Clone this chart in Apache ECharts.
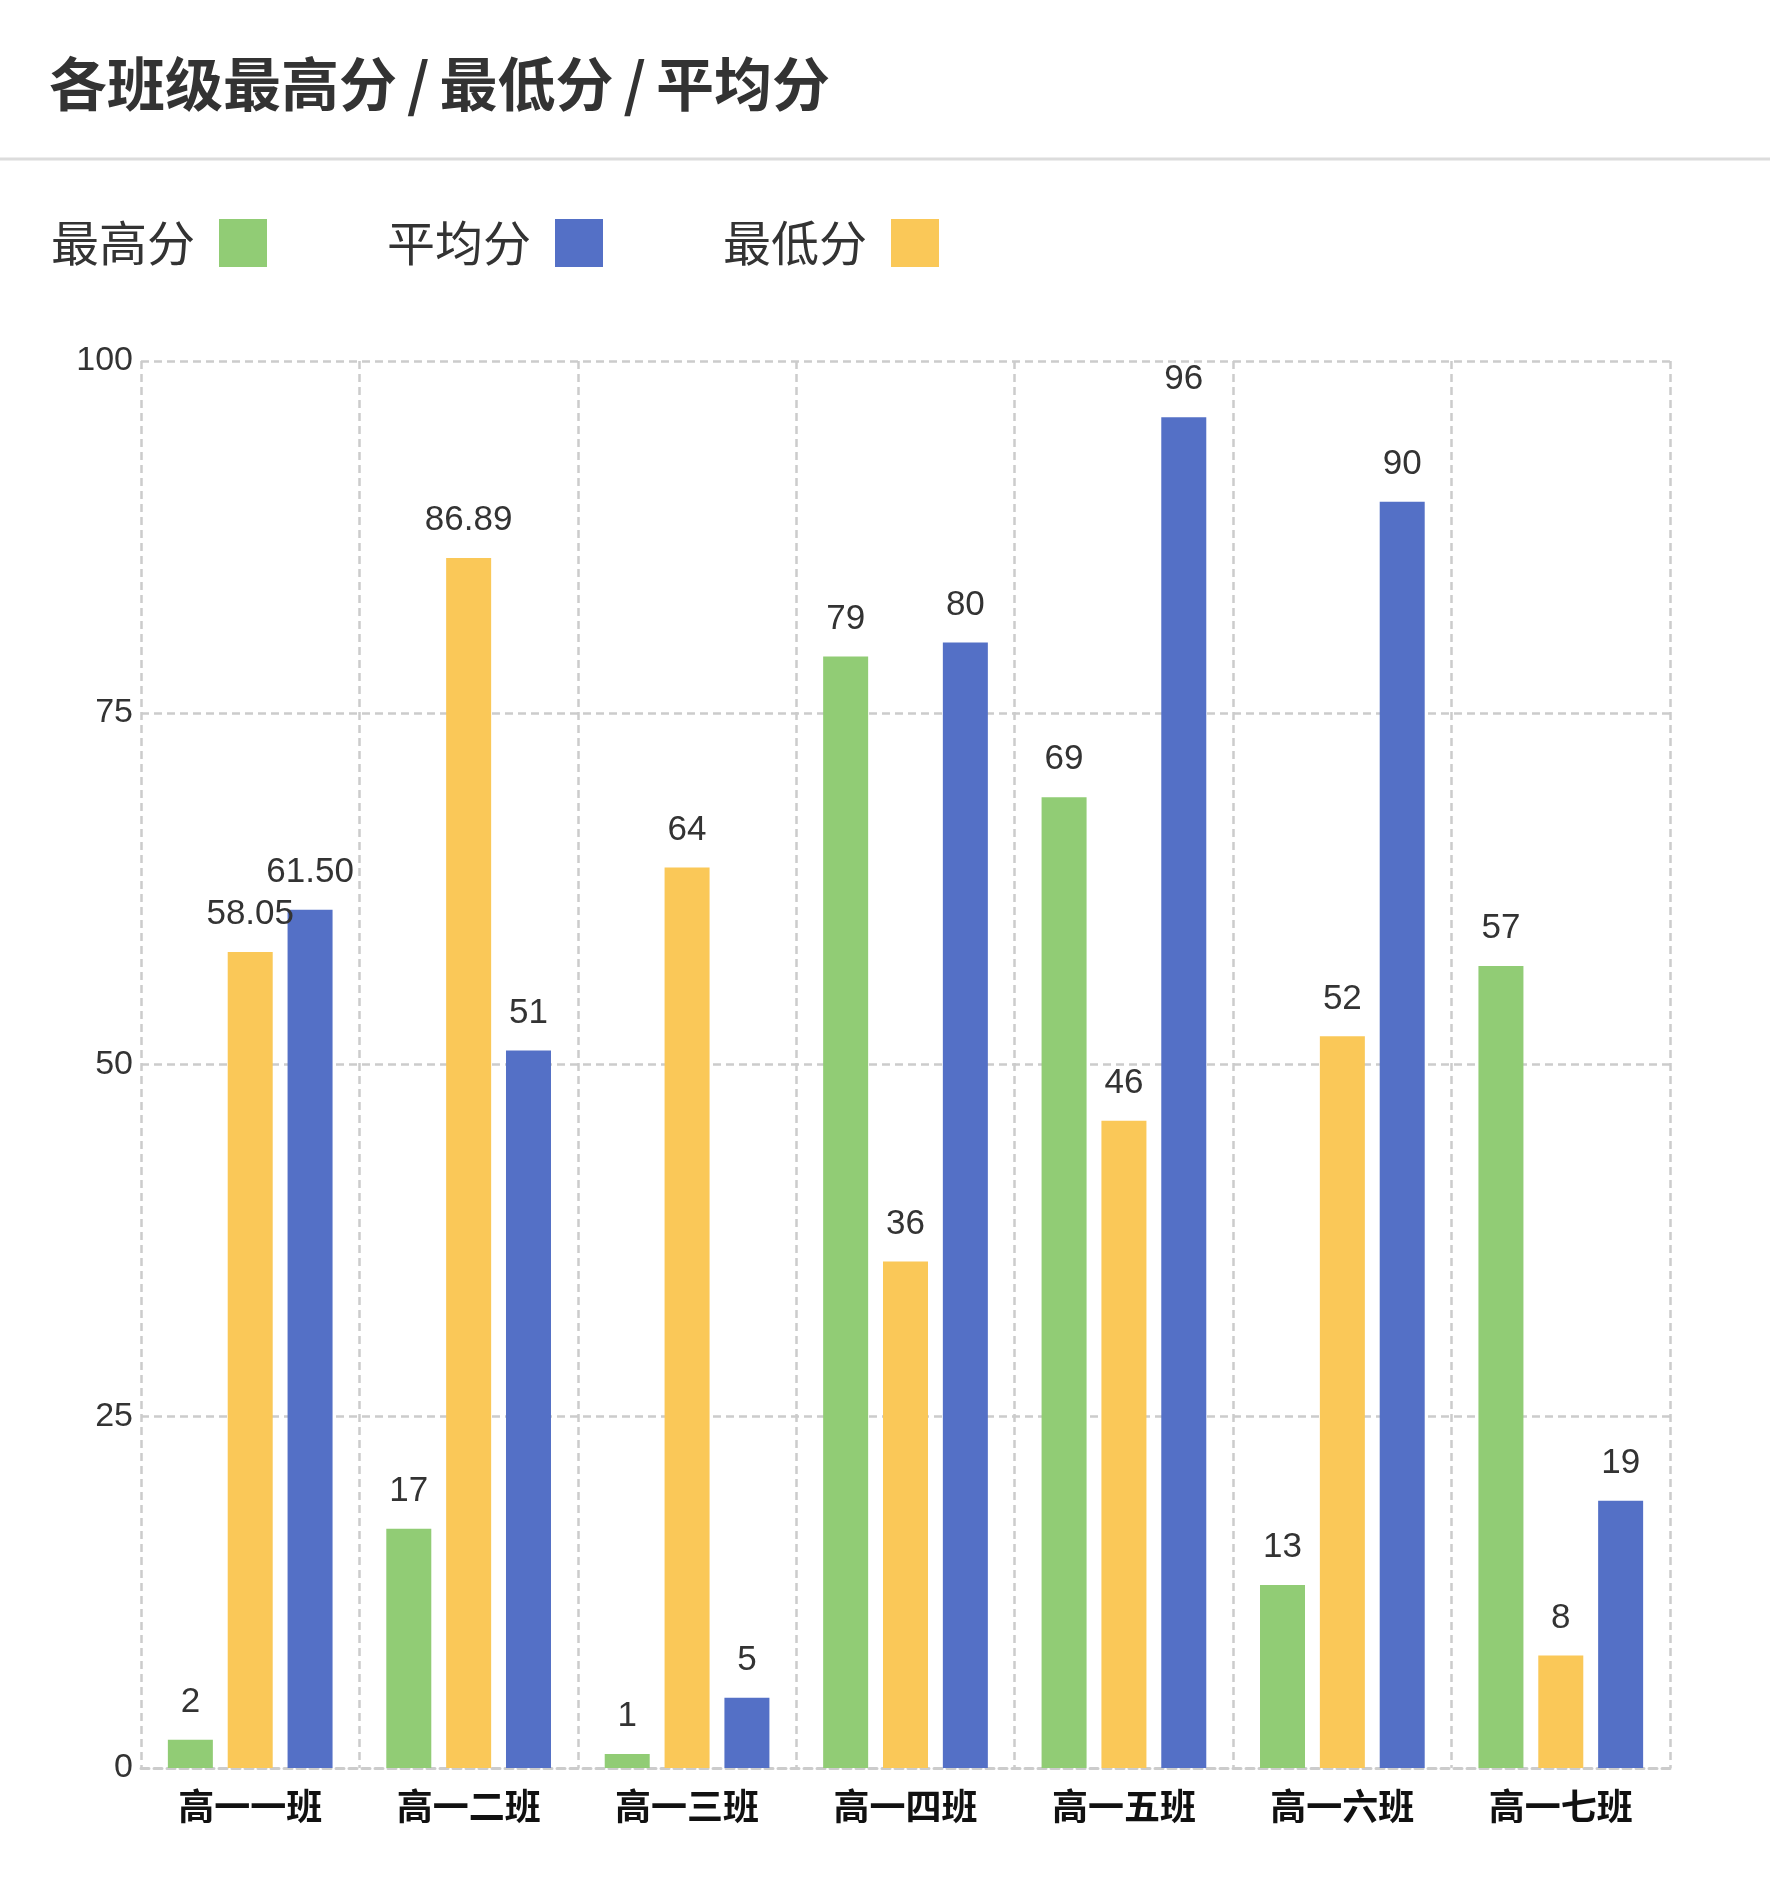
<!DOCTYPE html>
<html>
<head>
<meta charset="utf-8">
<script src="https://cdn.jsdelivr.net/npm/echarts@6/dist/echarts.min.js"></script>
<style>
html,body{margin:0;padding:0;background:#fff;}
#main{width:1770px;height:1884px;}
</style>
</head>
<body>
<div id="main"></div>
<script>
var titleParts = ['各班级最高分', '最低分', '平均分'];
var categories = ['高一一班','高一二班','高一三班','高一四班','高一五班','高一六班','高一七班'];
// bar heights as drawn
var maxScores = [2, 17, 1, 79, 69, 13, 57];
var minScores = [58, 86, 64, 36, 46, 52, 8];
var avgScores = [61, 51, 5, 80, 96, 90, 19];
// value labels as printed above the bars
var maxLabels = ['2', '17', '1', '79', '69', '13', '57'];
var minLabels = ['58.05', '86.89', '64', '36', '46', '52', '8'];
var avgLabels = ['61.50', '51', '5', '80', '96', '90', '19'];
var legendNames = ['最高分','平均分','最低分'];
var yTicks = {min: 0, max: 100, interval: 25};

var numFont = "'Liberation Sans', 'Noto Sans CJK SC', sans-serif";
var cjkFont = "'Noto Sans CJK SC', sans-serif";

function labelCfg(texts){
  return {
    show: true, position: 'top', distance: 20,
    fontSize: 35, color: '#333', fontFamily: numFont,
    formatter: function(p){ return texts[p.dataIndex]; }
  };
}
var dash = [8, 5];
var titleRich = titleParts.map(function(s){ return '{t|' + s + '}'; }).join('{s|/}');

var chart = echarts.init(document.getElementById('main'), null, {renderer:'canvas'});
chart.setOption({
  animation: false,
  color: ['#91cc75','#fac858','#5470c6'],
  title: {
    text: titleRich, left: 44, top: 50,
    textStyle: {
      fontSize: 58, fontWeight: 'bold', color: '#333', fontFamily: cjkFont,
      rich: {
        t: {fontSize: 58, fontWeight: 'bold', color: '#333', fontFamily: cjkFont},
        s: {fontSize: 58, fontWeight: 'bold', color: '#333', fontFamily: cjkFont, padding: [0, 10]}
      }
    }
  },
  graphic: [{
    type: 'line', shape: {x1: 0, y1: 159, x2: 1770, y2: 159},
    style: {stroke: '#dcdcdc', lineWidth: 3}
  }],
  legend: {
    data: legendNames, left: 46, top: 214, align: 'right',
    itemWidth: 48, itemHeight: 48, itemGap: 120, icon: 'rect',
    textStyle: {fontSize: 48, color: '#333', fontFamily: cjkFont, padding: [0, 19, 0, 0]}
  },
  grid: {left: 141, right: 100, top: 361, bottom: 116},
  xAxis: {
    type: 'category', data: categories,
    axisTick: {show: false},
    axisLine: {show: true, lineStyle: {color: '#ccc', width: 3, type: dash}},
    splitLine: {show: true, lineStyle: {color: '#ccc', width: 2.5, type: dash}},
    axisLabel: {fontSize: 36, color: '#111', margin: 20, fontFamily: cjkFont, fontWeight: 'bold'}
  },
  yAxis: {
    type: 'value', min: yTicks.min, max: yTicks.max, interval: yTicks.interval,
    axisLine: {show: false}, axisTick: {show: false},
    splitLine: {show: true, lineStyle: {color: '#ccc', width: 2.5, type: dash}},
    axisLabel: {fontSize: 34, color: '#333', margin: 8, fontFamily: numFont}
  },
  series: [
    {name: '最高分', type: 'bar', data: maxScores, barWidth: 45, barGap: '33%', label: labelCfg(maxLabels)},
    {name: '最低分', type: 'bar', data: minScores, barWidth: 45, barGap: '33%', label: labelCfg(minLabels)},
    {name: '平均分', type: 'bar', data: avgScores, barWidth: 45, barGap: '33%', label: labelCfg(avgLabels)}
  ]
});
</script>
</body>
</html>
